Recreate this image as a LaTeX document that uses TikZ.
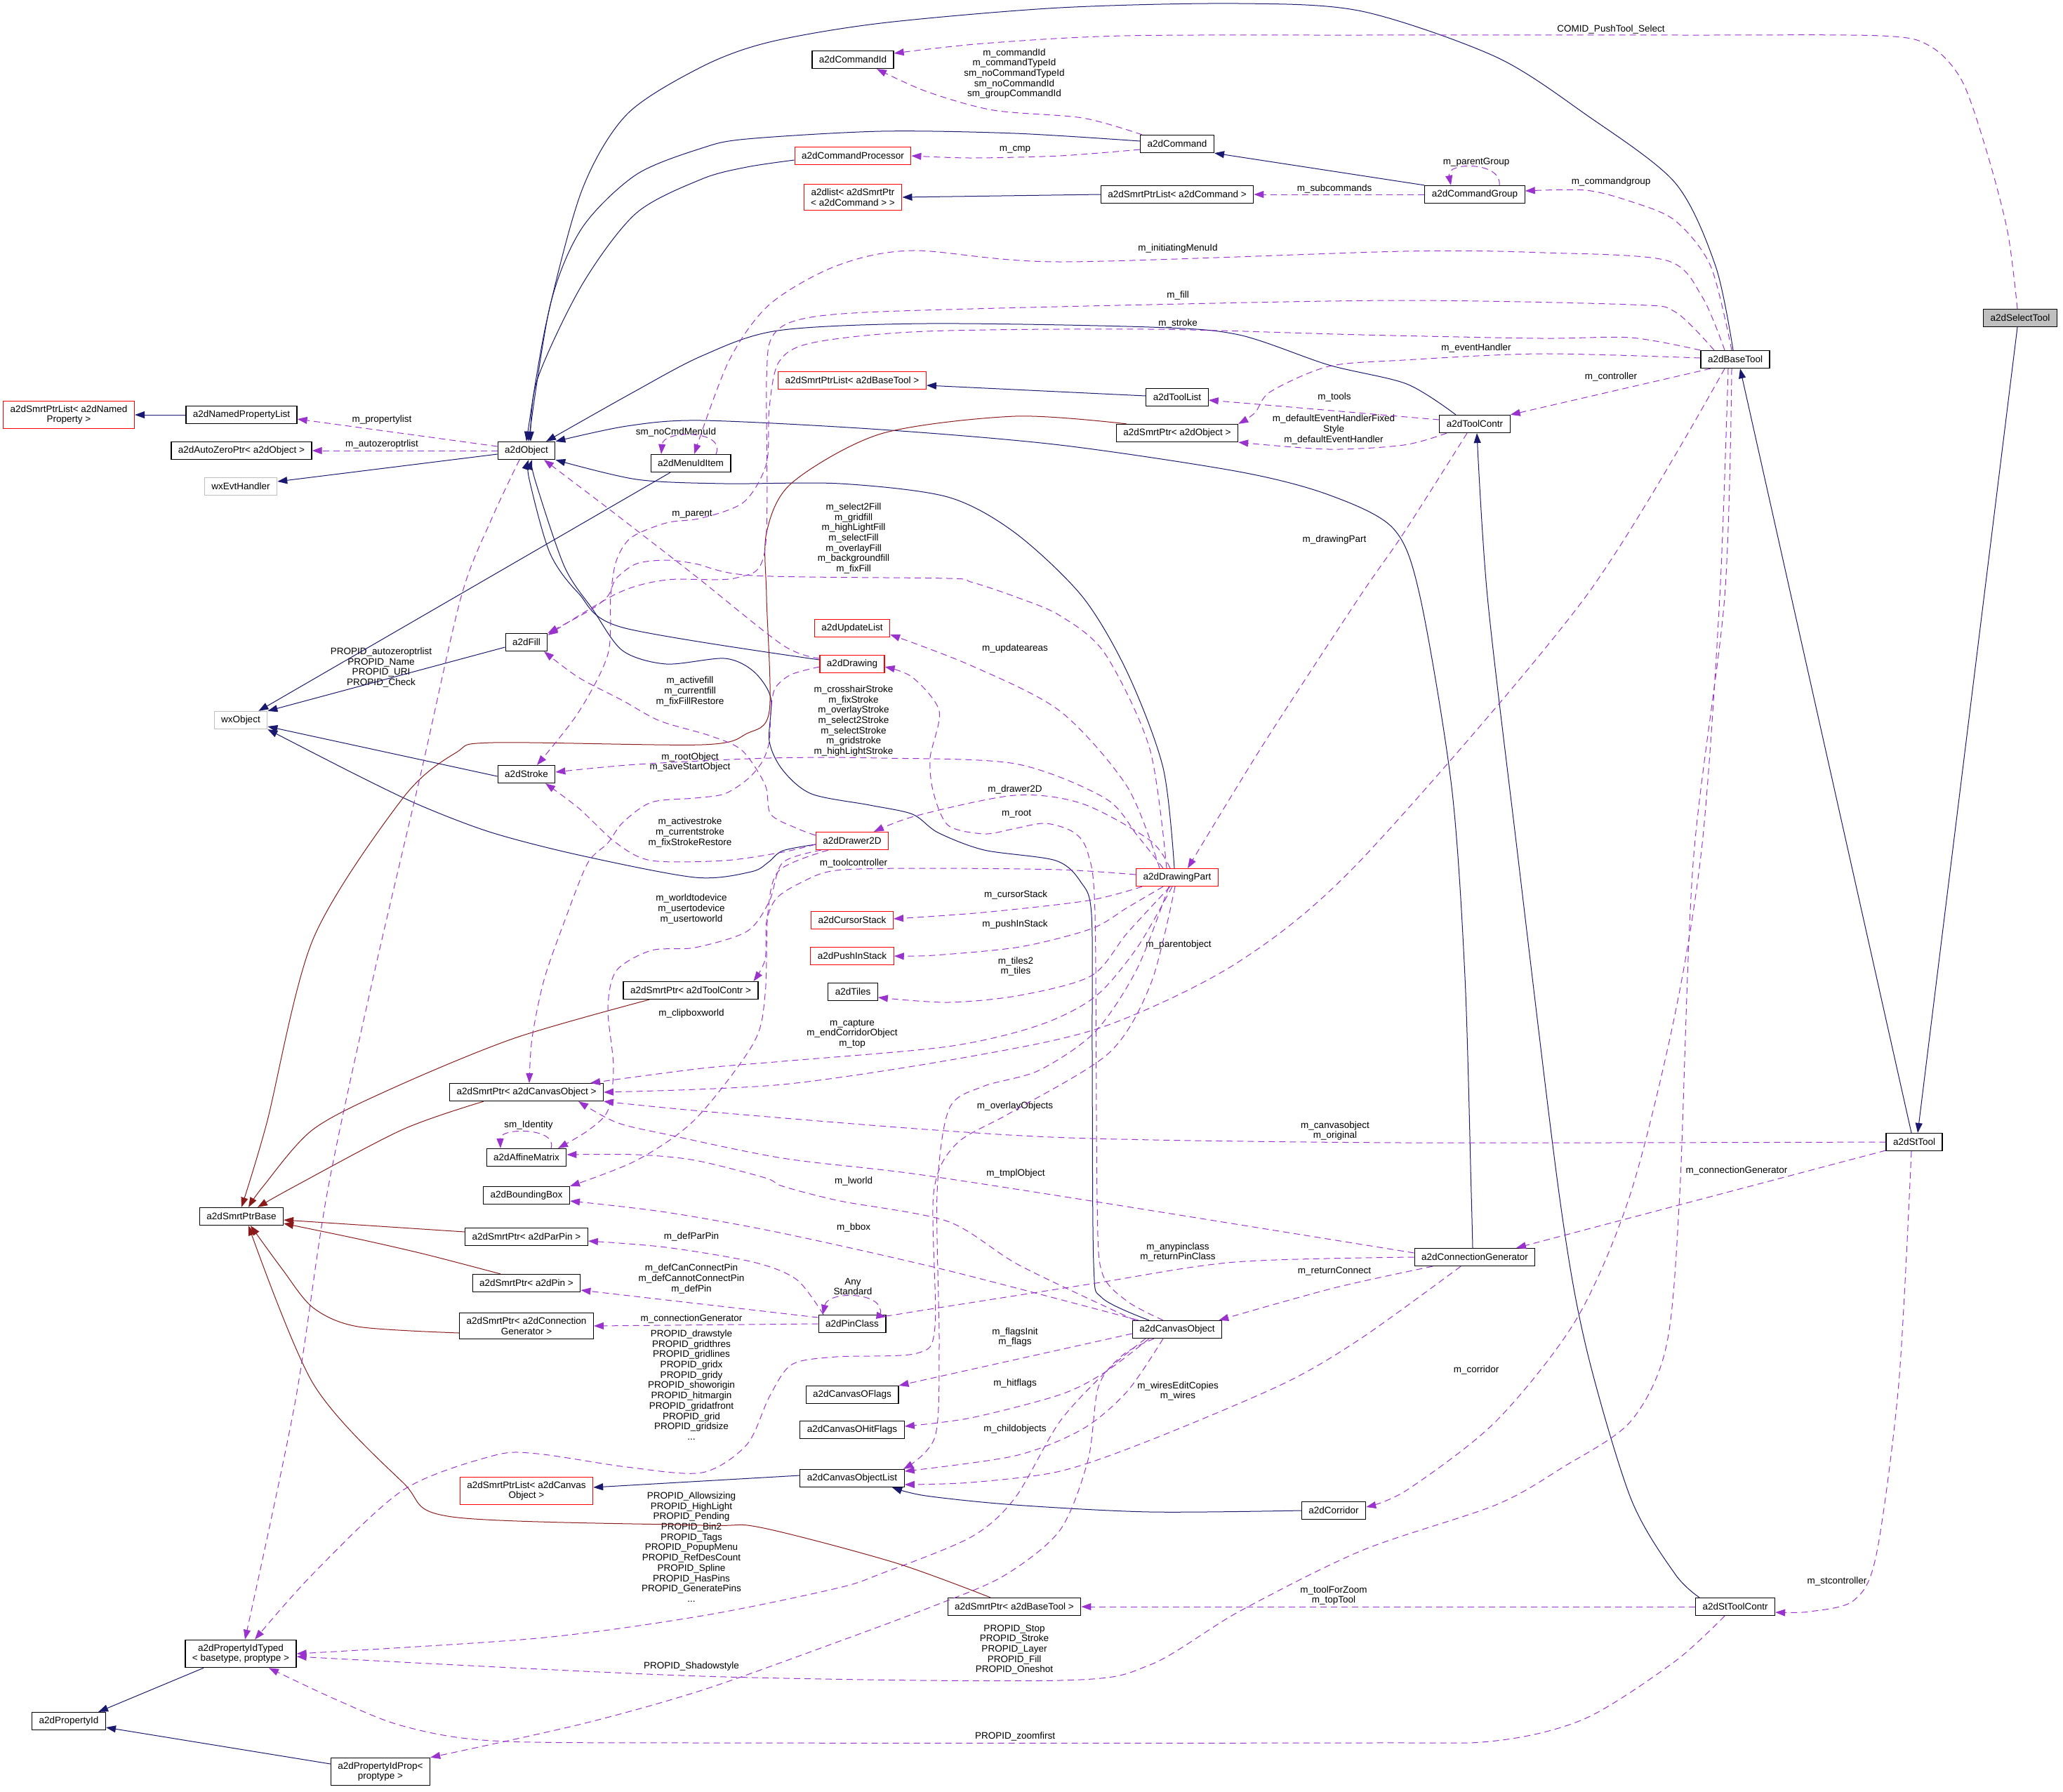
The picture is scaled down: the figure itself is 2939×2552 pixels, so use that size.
\documentclass[tikz,border=0pt]{standalone}
\usepackage{fontspec}
\setmainfont{Liberation Sans}
\usetikzlibrary{arrows.meta}
\definecolor{inhblue}{HTML}{191970}
\definecolor{ptrred}{HTML}{8B1A1A}
\definecolor{usepurple}{HTML}{9A32CD}
\definecolor{boxgray}{HTML}{BFBFBF}
\newcommand\dgfont{\fontsize{13.5}{14.7}\selectfont}

\begin{document}
\begin{tikzpicture}[x=1pt,y=-1pt,
  cls/.style={draw=black,line width=1.2pt,fill=white,minimum height=25pt,inner xsep=10pt,inner ysep=6pt,align=center,font=\dgfont},
  redcls/.style={cls,draw=red},
  graycls/.style={cls,draw=boxgray},
  curcls/.style={cls,fill=boxgray},
  lbl/.style={align=center,inner sep=0pt,font=\dgfont},
  inh/.style={draw=inhblue,line width=1pt,-{Triangle[length=14pt,width=10pt]}},
  sptr/.style={inh,draw=ptrred},
  use/.style={draw=usepurple,line width=1pt,dash pattern=on 9pt off 6pt,-{Triangle[length=14pt,width=10pt]}}]
\path[use as bounding box,fill=white] (0,0) rectangle (2939,2552);

\node[redcls] (splnamed) at (98,591) {a2dSmrtPtrList< a2dNamed\\Property >};
\node[cls] (namedprop) at (344,591) {a2dNamedPropertyList};
\node[cls] (autozero) at (344,642) {a2dAutoZeroPtr< a2dObject >};
\node[graycls] (evthandler) at (343,693) {wxEvtHandler};
\node[graycls] (wxobject) at (343,1026) {wxObject};
\node[cls] (obj) at (750,642) {a2dObject};
\node[cls] (menuitem) at (984,660) {a2dMenuIdItem};
\node[cls] (fill) at (750,915) {a2dFill};
\node[cls] (stroke) at (750,1103) {a2dStroke};
\node[cls] (spcanvas) at (750,1556) {a2dSmrtPtr< a2dCanvasObject >};
\node[cls] (affine) at (750,1649) {a2dAffineMatrix};
\node[cls] (bbox) at (750,1703) {a2dBoundingBox};
\node[cls] (ptrbase) at (344,1733) {a2dSmrtPtrBase};
\node[cls] (spparpin) at (750,1762) {a2dSmrtPtr< a2dParPin >};
\node[cls] (sppin) at (750,1828) {a2dSmrtPtr< a2dPin >};
\node[cls] (spcongen) at (750,1889) {a2dSmrtPtr< a2dConnection\\Generator >};
\node[redcls] (splcanvas) at (750,2124) {a2dSmrtPtrList< a2dCanvas\\Object >};
\node[cls] (propidtyped) at (343,2356) {a2dPropertyIdTyped\\< basetype, proptype >};
\node[cls] (propid) at (98,2452) {a2dPropertyId};
\node[cls] (propidprop) at (542,2524) {a2dPropertyIdProp<\\proptype >};
\node[cls] (cmdid) at (1215,85) {a2dCommandId};
\node[cls] (cmd) at (1677,205) {a2dCommand};
\node[redcls] (cmdproc) at (1215,222) {a2dCommandProcessor};
\node[redcls] (cmdlist) at (1215,281) {a2dlist< a2dSmrtPtr\\< a2dCommand > >};
\node[cls] (splcmd) at (1677,277) {a2dSmrtPtrList< a2dCommand >};
\node[cls] (cmdgroup) at (2101,277) {a2dCommandGroup};
\node[redcls] (spltool) at (1214,542) {a2dSmrtPtrList< a2dBaseTool >};
\node[cls] (toollist) at (1677,566) {a2dToolList};
\node[cls] (spobj) at (1677,617) {a2dSmrtPtr< a2dObject >};
\node[curcls] (selecttool) at (2878,453) {a2dSelectTool};
\node[cls] (basetool) at (2472,512) {a2dBaseTool};
\node[cls] (toolcontr) at (2101,604) {a2dToolContr};
\node[redcls] (updlist) at (1214,895) {a2dUpdateList};
\node[redcls] (drawing) at (1214,946) {a2dDrawing};
\node[redcls] (drawer) at (1214,1198) {a2dDrawer2D};
\node[redcls] (drawpart) at (1677,1250) {a2dDrawingPart};
\node[redcls] (cursor) at (1214,1311) {a2dCursorStack};
\node[redcls] (pushin) at (1214,1362) {a2dPushInStack};
\node[cls] (tiles) at (1215,1413) {a2dTiles};
\node[cls] (sptoolc) at (984,1411) {a2dSmrtPtr< a2dToolContr >};
\node[cls] (pinclass) at (1214,1886) {a2dPinClass};
\node[cls] (canvasobj) at (1677,1894) {a2dCanvasObject};
\node[cls] (oflags) at (1214,1987) {a2dCanvasOFlags};
\node[cls] (ohitflags) at (1214,2037) {a2dCanvasOHitFlags};
\node[cls] (objlist) at (1214,2106) {a2dCanvasObjectList};
\node[cls] (corridor) at (1900,2152) {a2dCorridor};
\node[cls] (sptool) at (1445,2289) {a2dSmrtPtr< a2dBaseTool >};
\node[cls] (congen) at (2101,1791) {a2dConnectionGenerator};
\node[cls] (sttoolc) at (2472,2289) {a2dStToolContr};
\node[cls] (sttool) at (2727,1627) {a2dStTool};

\node[lbl] (lproplist) at (544,598) {m\_propertylist};
\node[lbl] (lautozero) at (544,633) {m\_autozeroptrlist};
\node[lbl] (lnocmd) at (963,616) {sm\_noCmdMenuId};
\node[lbl] (lcmdid) at (1445,105) {m\_commandId\\m\_commandTypeId\\sm\_noCommandTypeId\\sm\_noCommandId\\sm\_groupCommandId};
\node[lbl] (lcomid) at (2295,42) {COMID\_PushTool\_Select};
\node[lbl] (lcmp) at (1446,213) {m\_cmp};
\node[lbl] (lsubcmd) at (1901,269) {m\_subcommands};
\node[lbl] (lparentgrp) at (2103,231) {m\_parentGroup};
\node[lbl] (lcmdgroup) at (2295,259) {m\_commandgroup};
\node[lbl] (linitmenu) at (1678,354) {m\_initiatingMenuId};
\node[lbl] (lfill) at (1678,421) {m\_fill};
\node[lbl] (lstroke) at (1678,461) {m\_stroke};
\node[lbl] (levth) at (2103,496) {m\_eventHandler};
\node[lbl] (lcontroller) at (2295,537) {m\_controller};
\node[lbl] (ltools) at (1901,566) {m\_tools};
\node[lbl] (ldefevh) at (1900,612) {m\_defaultEventHandlerFixed\\Style\\m\_defaultEventHandler};
\node[lbl] (ldrawpart) at (1901,769) {m\_drawingPart};
\node[lbl] (lselfill) at (1216,767) {m\_select2Fill\\m\_gridfill\\m\_highLightFill\\m\_selectFill\\m\_overlayFill\\m\_backgroundfill\\m\_fixFill};
\node[lbl] (lparent) at (986,733) {m\_parent};
\node[lbl] (lpropidobj) at (543,951) {PROPID\_autozeroptrlist\\PROPID\_Name\\PROPID\_URI\\PROPID\_Check};
\node[lbl] (lactfill) at (983,985) {m\_activefill\\m\_currentfill\\m\_fixFillRestore};
\node[lbl] (lupdareas) at (1446,924) {m\_updateareas};
\node[lbl] (lxstroke) at (1216,1027) {m\_crosshairStroke\\m\_fixStroke\\m\_overlayStroke\\m\_select2Stroke\\m\_selectStroke\\m\_gridstroke\\m\_highLightStroke};
\node[lbl] (lrootobj) at (983,1086) {m\_rootObject\\m\_saveStartObject};
\node[lbl] (ldrawer) at (1446,1125) {m\_drawer2D};
\node[lbl] (lroot) at (1448,1159) {m\_root};
\node[lbl] (lactstroke) at (983,1186) {m\_activestroke\\m\_currentstroke\\m\_fixStrokeRestore};
\node[lbl] (ltoolc) at (1216,1230) {m\_toolcontroller};
\node[lbl] (lcursor) at (1447,1275) {m\_cursorStack};
\node[lbl] (lpushin) at (1446,1317) {m\_pushInStack};
\node[lbl] (lparentobj) at (1679,1346) {m\_parentobject};
\node[lbl] (ltiles) at (1447,1377) {m\_tiles2\\m\_tiles};
\node[lbl] (lworld) at (985,1295) {m\_worldtodevice\\m\_usertodevice\\m\_usertoworld};
\node[lbl] (lclipbox) at (985,1444) {m\_clipboxworld};
\node[lbl] (lcapture) at (1214,1473) {m\_capture\\m\_endCorridorObject\\m\_top};
\node[lbl] (loverlay) at (1446,1576) {m\_overlayObjects};
\node[lbl] (lcanvasobj) at (1902,1611) {m\_canvasobject\\m\_original};
\node[lbl] (lidentity) at (753,1603) {sm\_Identity};
\node[lbl] (ltmpl) at (1447,1672) {m\_tmplObject};
\node[lbl] (llworld) at (1216,1683) {m\_lworld};
\node[lbl] (lcongen) at (2474,1668) {m\_connectionGenerator};
\node[lbl] (lbbox) at (1216,1749) {m\_bbox};
\node[lbl] (ldefparpin) at (985,1762) {m\_defParPin};
\node[lbl] (lanypin) at (1678,1784) {m\_anypinclass\\m\_returnPinClass};
\node[lbl] (lretconn) at (1901,1811) {m\_returnConnect};
\node[lbl] (ldefpin) at (985,1822) {m\_defCanConnectPin\\m\_defCannotConnectPin\\m\_defPin};
\node[lbl] (lanystd) at (1215,1833) {Any\\Standard};
\node[lbl] (lcongen2) at (985,1879) {m\_connectionGenerator};
\node[lbl] (ldrawstyle) at (985,1973) {PROPID\_drawstyle\\PROPID\_gridthres\\PROPID\_gridlines\\PROPID\_gridx\\PROPID\_gridy\\PROPID\_showorigin\\PROPID\_hitmargin\\PROPID\_gridatfront\\PROPID\_grid\\PROPID\_gridsize\\...};
\node[lbl] (lflags) at (1446,1905) {m\_flagsInit\\m\_flags};
\node[lbl] (lhitflags) at (1446,1971) {m\_hitflags};
\node[lbl] (lwires) at (1678,1982) {m\_wiresEditCopies\\m\_wires};
\node[lbl] (lcorridor) at (2103,1952) {m\_corridor};
\node[lbl] (lchild) at (1446,2036) {m\_childobjects};
\node[lbl] (lallowsz) at (985,2204) {PROPID\_Allowsizing\\PROPID\_HighLight\\PROPID\_Pending\\PROPID\_Bin2\\PROPID\_Tags\\PROPID\_PopupMenu\\PROPID\_RefDesCount\\PROPID\_Spline\\PROPID\_HasPins\\PROPID\_GeneratePins\\...};
\node[lbl] (lstcontr) at (2617,2253) {m\_stcontroller};
\node[lbl] (ltoolzoom) at (1900,2273) {m\_toolForZoom\\m\_topTool};
\node[lbl] (lpropstop) at (1445,2350) {PROPID\_Stop\\PROPID\_Stroke\\PROPID\_Layer\\PROPID\_Fill\\PROPID\_Oneshot};
\node[lbl] (lshadow) at (985,2374) {PROPID\_Shadowstyle};
\node[lbl] (lzoomfirst) at (1446,2474) {PROPID\_zoomfirst};

\draw[inh] (namedprop.west) -- (splnamed.east);
\draw[inh] ([yshift=-5pt]obj.west) -- ([yshift=7pt]evthandler.east);
\draw[inh] ([xshift=-29pt]menuitem.south) -- ([xshift=-13pt]wxobject.north east);
\draw[inh] ([yshift=-7pt]fill.west) -- (wxobject.north east);
\draw[inh] ([yshift=-3pt]stroke.west) -- ([yshift=-9pt]wxobject.east);
\draw[inh] plot[smooth] coordinates {([yshift=-5pt]drawer.west) (1115,1212) (1095,1228) (1070,1242) (990,1250) (824,1218) (700,1186) (600,1148) (510,1105) (wxobject.south east)};
\draw[inh] plot[smooth] coordinates {([yshift=4pt]cmd.west) (1446,190) (1255,187) (1064,198) (1000,211) (906,249) (829,325) (784,434) ([xshift=3pt]obj.north)};
\draw[inh] plot[smooth] coordinates {([yshift=-6pt]cmdproc.west) (1064,238) (1000,255) (906,304) (829,406) (765,542) ([xshift=6pt]obj.north)};
\draw[inh] plot[smooth] coordinates {([xshift=-3pt]basetool.north) (2444,379) (2386,260) (2259,163) (2131,81) (1940,16) (1765,5) (1510,11) (1255,33) (1096,60) (1000,95) (893,163) (829,271) (778,461) (obj.north)};
\draw[inh] plot[smooth] coordinates {([xshift=-27pt]toolcontr.north) (2004,547) (1893,520) (1765,477) (1638,466) (1319,461) (1108,471) (1000,507) (900,560) ([xshift=28pt]obj.north)};
\draw[inh] plot[smooth] coordinates {([xshift=-3pt]congen.north) (2096,1700) (2087,1392) (2068,1121) (2023,850) (1985,753) (1893,705) (1765,672) (1510,634) (1255,612) (1000,599) (893,607) (obj.north east)};
\draw[inh] plot[smooth] coordinates {([xshift=-4pt]drawpart.north) (1657,1094) (1606,958) (1542,850) (1446,759) (1350,708) (1197,689) (1032,689) (907,683) (obj.south east)};
\draw[inh] plot[smooth] coordinates {([xshift=-40pt]canvasobj.north) (1570,1849) (1558,1800) (1556,1500) (1555,1303) (1540,1257) (1504,1226) (1402,1211) (1336,1186) (1300,1160) (1239,1147) (1156,1131) (1115,1097) (1096,1056) (1098,994) (1073,956) (1032,938) (949,946) (887,927) (845,869) (804,807) (762,683) ([xshift=8pt]obj.south)};
\draw[inh] plot[smooth] coordinates {([yshift=6pt]drawing.west) (887,894) (824,845) (783,787) (754,683) ([xshift=3pt]obj.south)};
\draw[inh] (splcmd.west) -- (cmdlist.east);
\draw[inh] (cmdgroup.north west) -- (cmd.south east);
\draw[inh] ([yshift=2pt]toollist.west) -- ([yshift=-7pt]spltool.east);
\draw[inh] ([xshift=-4pt]sttool.north) -- ([xshift=7pt]basetool.south);
\draw[inh] ([xshift=-4pt]selecttool.south) -- ([xshift=5pt]sttool.north);
\draw[inh] plot[smooth] coordinates {([xshift=-51pt]sttoolc.north) (2386,2242) (2323,2134) (2259,1917) (2221,1700) (2160,1200) (2119,850) ([xshift=3pt]toolcontr.south)};
\draw[inh] ([yshift=4pt]objlist.west) -- ([yshift=5pt]splcanvas.east);
\draw[inh] plot[smooth] coordinates {(corridor.west) (1638,2154) (1446,2144) (1319,2131) ([xshift=57pt]objlist.south)};
\draw[inh] ([xshift=-53pt]propidtyped.south) -- ([xshift=42pt]propid.north);
\draw[inh] ([yshift=11pt]propidprop.west) -- ([yshift=-9pt]propid.east);

\draw[sptr] plot[smooth] coordinates {([xshift=-72pt]spobj.north) (1446,593) (1255,618) (1128,688) (1092,759) (1092,850) (1096,1013) (1064,1045) (1000,1061) (702,1058) (650,1072) (574,1137) (446,1338) (380,1600) (ptrbase.north)};
\draw[sptr] plot[smooth] coordinates {([xshift=-59pt]sptoolc.south) (733,1479) (560,1550) (446,1609) (375,1690) ([xshift=10pt]ptrbase.north)};
\draw[sptr] plot[smooth] coordinates {([xshift=-61pt]spcanvas.south) (574,1609) (420,1690) ([xshift=23pt]ptrbase.north)};
\draw[sptr] ([yshift=7pt]spparpin.west) -- ([yshift=-5pt]ptrbase.east);
\draw[sptr] plot[smooth] coordinates {([xshift=-37pt]sppin.north) (606,1787) (510,1765) ([yshift=-10pt]ptrbase.east)};
\draw[sptr] plot[smooth] coordinates {([yshift=-10pt]spcongen.west) (510,1890) (446,1863) (402,1808) ([xshift=13pt]ptrbase.south)};
\draw[sptr] plot[smooth] coordinates {([xshift=-34pt]sptool.north) (1274,2226) (1083,2176) (1000,2173) (644,2161) (574,2112) (446,1971) ([xshift=10pt]ptrbase.south)};

\draw[use] ([yshift=6pt]obj.west) -- ([yshift=-6pt]namedprop.east);
\draw[use] (obj.west) -- (autozero.east);
\draw[use] plot[smooth] coordinates {([xshift=-10pt]obj.south) (700,740) (657,850) (600,1100) (530,1400) (466,1700) (420,2000) ([xshift=6pt]propidtyped.north)};
\draw[use] ([xshift=36pt]menuitem.north) .. controls (1035,612) and (945,612) .. ([xshift=-42pt]menuitem.north);
\draw[use] plot[smooth] coordinates {([xshift=-15pt]basetool.north) (2425,423) (2374,371) (2200,360) (2000,358) (1510,373) (1300,357) (1191,379) (1096,434) (1038,515) ([xshift=5pt]menuitem.north)};
\draw[use] plot[smooth] coordinates {([xshift=-30pt]basetool.north) (2386,444) (2323,434) (2000,428) (1638,434) (1255,444) (1140,455) (1100,480) (1092,542) (1090,782) (1050,823) (950,826) (880,845) ([yshift=-3pt]fill.north east)};
\draw[use] plot[smooth] coordinates {(basetool.north west) (2323,481) (2195,482) (1940,477) (1638,469) (1319,472) (1159,488) (1110,515) (1096,580) (1092,660) (1060,715) (1000,738) (949,745) (899,766) (878,799) (870,849) (866,932) (824,1015) ([xshift=15pt]stroke.north)};
\draw[use] plot[smooth] coordinates {([xshift=-50pt]cmd.north) (1542,168) (1415,157) (1319,130) ([xshift=34pt]cmdid.south)};
\draw[use] plot[smooth] coordinates {([xshift=-4pt]selecttool.north) (2860,330) (2830,215) (2795,115) (2750,66) (2680,51) (2400,50) (1940,50) (1600,51) (1400,62) ([yshift=9pt]cmdid.east)};
\draw[use] plot[smooth] coordinates {([yshift=-8pt]cmd.west) (1510,222) (1383,225) (cmdproc.east)};
\draw[use] (cmdgroup.west) -- (splcmd.east);
\draw[use] ([xshift=35pt]cmdgroup.north) .. controls (2140,230) and (2060,230) .. ([xshift=-34pt]cmdgroup.north);
\draw[use] plot[smooth] coordinates {([xshift=-5pt]basetool.north) (2437,379) (2386,314) (2323,287) (2259,271) ([yshift=5pt]cmdgroup.east)};
\draw[use] plot[smooth] coordinates {([yshift=2pt]basetool.west) (2195,504) (2000,513) (1893,522) (1810,558) (1788,588) (spobj.north east)};
\draw[use] ([yshift=6pt]toolcontr.west) -- ([yshift=-4pt]toollist.east);
\draw[use] plot[smooth] coordinates {([xshift=-40pt]toolcontr.south) (2000,634) (1893,640) (spobj.south east)};
\draw[use] ([xshift=-35pt]basetool.south) -- (toolcontr.north east);
\draw[use] plot[smooth] coordinates {([xshift=-11pt]toolcontr.south) (2000,759) (1937,850) (1800,1060) ([xshift=15pt]drawpart.north)};
\draw[use] plot[smooth] coordinates {([xshift=-15pt]basetool.south) (2259,850) (1940,1224) (1765,1370) (1574,1462) (1383,1505) (1115,1545) (spcanvas.east)};
\draw[use] plot[smooth] coordinates {([xshift=-7pt]drawpart.south) (1620,1350) (1560,1420) (1479,1461) (1350,1491) (1115,1512) (1000,1522) ([xshift=-19pt]spcanvas.north east)};
\draw[use] plot[smooth] coordinates {(sttool.west) (2000,1628) (1555,1622) (1319,1609) (1000,1583) (spcanvas.south east)};
\draw[use] plot[smooth] coordinates {([yshift=6pt]congen.west) (1555,1711) (1300,1672) (1115,1650) (949,1616) (878,1599) ([xshift=74pt]spcanvas.south)};
\draw[use] plot[smooth] coordinates {([yshift=-4pt]drawing.west) (1127,961) (1104,981) (1098,1015) (1096,1056) (1086,1085) (1065,1110) (1032,1131) (990,1137) (928,1143) (887,1172) (866,1201) (837,1230) (804,1313) (775,1396) (758,1479) ([xshift=4pt]spcanvas.north)};
\draw[use] plot[smooth] coordinates {([yshift=8pt]drawing.west) (1115,919) (990,820) (866,724) ([xshift=25pt]obj.south)};
\draw[use] plot[smooth] coordinates {([yshift=8pt]drawer.west) (1135,1180) (1098,1160) (1090,1118) (1057,1069) (1011,1048) (940,1027) (887,998) (824,965) ([xshift=25pt]fill.south)};
\draw[use] plot[smooth] coordinates {([yshift=-5pt]drawer.west) (1115,1214) (1032,1226) (928,1226) (878,1201) (824,1151) ([xshift=27pt]stroke.south)};
\draw[use] plot[smooth] coordinates {([xshift=-15pt]drawpart.north) (1638,1067) (1574,931) (1510,877) (1446,850) (1383,829) (1350,824) (1073,820) (990,803) (949,798) (907,803) (878,824) (866,849) (841,869) (fill.north east)};
\draw[use] plot[smooth] coordinates {([xshift=-20pt]drawpart.north) (1620,1190) (1574,1137) (1446,1088) (1255,1080) (1096,1080) (907,1089) ([yshift=3pt]stroke.east)};
\draw[use] plot[smooth] coordinates {([xshift=-25pt]drawpart.north) (1606,1121) (1510,1013) (1383,948) ([yshift=-9pt]updlist.east)};
\draw[use] plot[smooth] coordinates {([xshift=-20pt]canvasobj.north) (1606,1854) (1570,1813) (1563,1711) (1560,1303) (1550,1216) (1530,1186) (1489,1173) (1443,1181) (1402,1188) (1351,1176) (1330,1130) (1325,1080) (1338,1013) (1300,965) ([yshift=-4pt]drawing.east)};
\draw[use] plot[smooth] coordinates {([xshift=-10pt]drawpart.north) (1638,1197) (1542,1145) (1446,1133) (1306,1162) ([xshift=31pt]drawer.north)};
\draw[use] plot[smooth] coordinates {([yshift=4pt]drawpart.west) (1510,1239) (1319,1237) (1191,1240) (1140,1258) (1106,1280) (1092,1313) (1090,1367) ([xshift=-7pt]sptoolc.north east)};
\draw[use] plot[smooth] coordinates {([xshift=-50pt]drawpart.south) (1550,1283) (1400,1300) ([yshift=2pt]cursor.east)};
\draw[use] plot[smooth] coordinates {([xshift=-20pt]drawpart.south) (1606,1293) (1555,1323) (1453,1349) (1330,1361) (pushin.east)};
\draw[use] plot[smooth] coordinates {([xshift=-10pt]drawpart.south) (1606,1329) (1555,1390) (1453,1418) (1351,1428) ([yshift=-8pt]tiles.east)};
\draw[use] plot[smooth] coordinates {([xshift=-44pt]drawer.south) (1115,1229) (1096,1284) (1064,1327) (990,1350) (928,1354) (878,1383) (866,1437) (874,1520) (866,1582) (837,1611) ([xshift=45pt]affine.north)};
\draw[use] plot[smooth] coordinates {([xshift=-34pt]drawer.south) (1110,1240) (1094,1300) (1090,1417) (1073,1487) (990,1595) (907,1653) (bbox.north east)};
\draw[use] plot[smooth] coordinates {([xshift=-12pt]drawpart.south) (1620,1380) (1560,1470) (1480,1525) (1400,1548) (1352,1580) (1335,1700) (1338,1917) (1332,2047) ([xshift=73pt]objlist.north)};
\draw[use] plot[smooth] coordinates {([xshift=-3pt]drawpart.south) (1640,1400) (1580,1500) (1440,1585) (1362,1630) (1330,1700) (1332,1890) (1306,1928) (1191,1933) (1128,1944) (1096,1990) (1064,2058) (1000,2098) (893,2090) (765,2071) (702,2074) (574,2123) (446,2242) ([xshift=20pt]propidtyped.north)};
\draw[use] plot[smooth] coordinates {([xshift=-60pt]canvasobj.north) (1453,1803) (1350,1740) (1197,1711) (1115,1690) (1090,1678) (990,1653) (907,1645) ([yshift=4pt]affine.east)};
\draw[use] plot[smooth] coordinates {([xshift=-55pt]canvasobj.north) (1350,1810) (1115,1757) (949,1727) ([yshift=-8pt]bbox.east)};
\draw[use] plot[smooth] coordinates {([xshift=-41pt]pinclass.north) (1135,1823) (1073,1798) (949,1777) ([yshift=-6pt]spparpin.east)};
\draw[use] ([yshift=9pt]pinclass.west) -- ([yshift=-10pt]sppin.east);
\draw[use] (pinclass.west) -- (spcongen.east);
\draw[use] ([xshift=40pt]pinclass.north) .. controls (1262,1840) and (1180,1838) .. ([xshift=-42pt]pinclass.north);
\draw[use] plot[smooth] coordinates {(congen.west) (1759,1798) (1555,1829) (1300,1869) ([yshift=10pt]pinclass.east)};
\draw[use] plot[smooth] coordinates {([xshift=-60pt]congen.south) (1900,1835) ([xshift=-5pt]canvasobj.north east)};
\draw[use] plot[smooth] coordinates {([xshift=-20pt]congen.south) (1940,1906) (1829,1971) (1638,2052) (1510,2096) (1383,2112) ([yshift=-9pt]objlist.east)};
\draw[use] ([yshift=-6pt]canvasobj.west) -- (oflags.north east);
\draw[use] plot[smooth] coordinates {([xshift=-40pt]canvasobj.south) (1574,1955) (1510,1987) (1383,2020) ([yshift=5pt]ohitflags.east)};
\draw[use] plot[smooth] coordinates {([xshift=-20pt]canvasobj.south) (1606,1982) (1542,2036) (1446,2074) ([yshift=10pt]objlist.east)};
\draw[use] plot[smooth] coordinates {([xshift=-45pt]canvasobj.south) (1580,1950) (1510,2025) (1446,2134) (1383,2190) (1255,2242) (1191,2263) (1000,2302) (765,2334) (propidtyped.east)};
\draw[use] plot[smooth] coordinates {([xshift=-33pt]canvasobj.south) (1600,1930) (1565,1975) (1550,2080) (1510,2180) (1430,2245) (1330,2288) (1191,2340) (1000,2408) (829,2456) (propidprop.north east)};
\draw[use] plot[smooth] coordinates {([xshift=-5pt]basetool.south) (2457,850) (2412,1230) (2393,1700) (2374,1917) (2323,2025) (2227,2090) (2131,2144) (1940,2209) (1765,2296) (1638,2372) (1510,2394) (1000,2388) ([yshift=-4pt]propidtyped.east)};
\draw[use] plot[smooth] coordinates {([xshift=-10pt]basetool.south) (2450,850) (2425,1202) (2386,1446) (2323,1700) (2246,1879) (2131,2025) (2004,2123) ([yshift=5pt]corridor.east)};
\draw[use] ([yshift=-12pt]sttool.west) -- ([xshift=59pt]congen.north);
\draw[use] plot[smooth] coordinates {([xshift=-4pt]sttool.south) (2705,1971) (2673,2215) (2641,2280) (2578,2296) ([yshift=-8pt]sttoolc.east)};
\draw[use] (sttoolc.west) -- (sptool.east);
\draw[use] plot[smooth] coordinates {([xshift=-15pt]sttoolc.south) (2386,2367) (2259,2448) (2131,2480) (1940,2483) (1000,2483) (702,2480) (574,2459) (478,2421) ([xshift=40pt]propidtyped.south)};
\draw[use] ([xshift=35pt]affine.north) .. controls (795,1606) and (712,1606) .. ([xshift=-37pt]affine.north);
\end{tikzpicture}
\end{document}
